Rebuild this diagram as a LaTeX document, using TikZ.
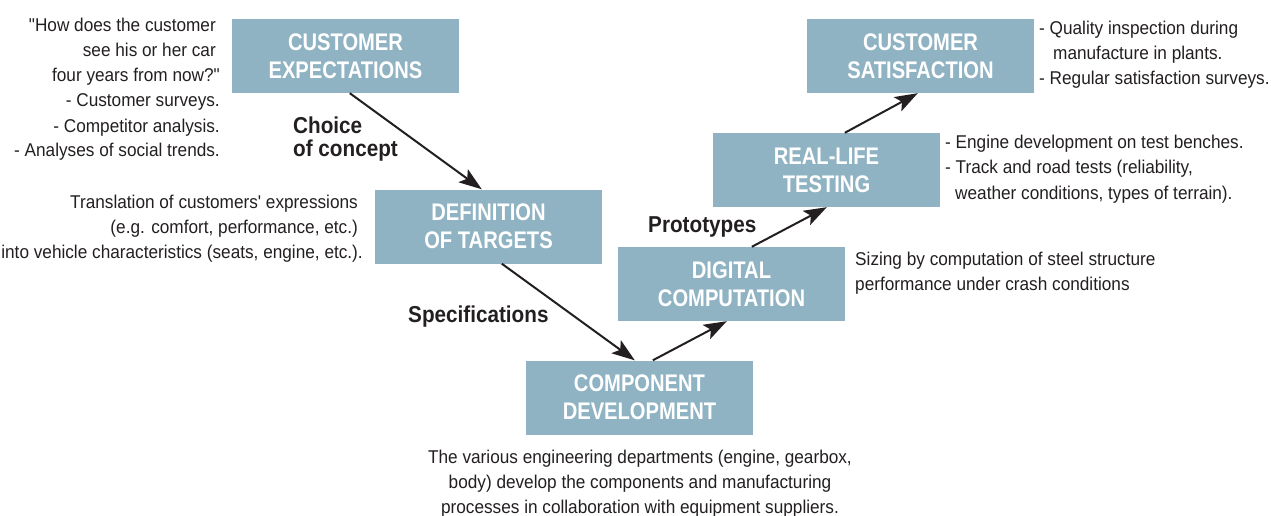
\documentclass[tikz,border=0pt]{standalone}
\usepackage{fontspec}
\setmainfont[FakeStretch=0.93,Ligatures=TeXOff]{Liberation Sans}
\newfontfamily\boxfont[FakeStretch=0.84]{Liberation Sans}
\newfontfamily\lblfont[FakeStretch=0.9]{Liberation Sans}
\usetikzlibrary{arrows.meta,calc}
\definecolor{boxblue}{RGB}{143,179,195}
\definecolor{ink}{RGB}{35,31,32}
\tikzset{
  stage/.style={fill=boxblue, draw=none, minimum width=227pt, minimum height=74pt, inner sep=0pt,
    align=center, text=white, font=\boxfont\fontsize{24}{28}\selectfont\bfseries},
  flow/.style={draw=ink, line width=2pt, -{Stealth[length=23pt,width=16pt,inset=5pt]}},
  body/.style={inner sep=0pt, text=ink, font=\fontsize{18.5}{25}\selectfont},
  lbl/.style={inner sep=0pt, text=ink, font=\lblfont\fontsize{23}{24}\selectfont\bfseries},
}
\begin{document}
\begin{tikzpicture}[x=1pt,y=-1pt]
\useasboundingbox (0,0) rectangle (1271,516);
% boxes
\node[stage] (ce) at (345.5,56) {CUSTOMER\\EXPECTATIONS};
\node[stage] (dt) at (488.5,226.5) {DEFINITION\\OF TARGETS};
\node[stage] (cd) at (639.5,397.5) {COMPONENT\\DEVELOPMENT};
\node[stage] (dc) at (731.5,284) {DIGITAL\\COMPUTATION};
\node[stage] (rl) at (826.5,170) {REAL-LIFE\\TESTING};
\node[stage] (cs) at (920.5,56) {CUSTOMER\\SATISFACTION};
% arrows
\draw[flow] ($(ce.south west)+(118,0)$) -- ($(dt.north west)+(107,0)$);
\draw[flow] ($(dt.south west)+(127,0)$) -- ($(cd.north west)+(109,0)$);
\draw[flow] ($(cd.north west)+(127,0)$) -- ($(dc.south west)+(109,0)$);
\draw[flow] ($(dc.north west)+(134,0)$) -- ($(rl.south west)+(114,0)$);
\draw[flow] ($(rl.north west)+(132,0)$) -- ($(cs.south west)+(111,0)$);
% arrow labels
\node[lbl, anchor=base west] (l1a) at (293,133) {Choice};
\node[lbl, anchor=base west] (l1b) at (293,157) {of concept};
\node[lbl, anchor=base west] (l2) at (408,322) {Specifications};
\node[lbl, anchor=base west] (l3) at (648,232) {Prototypes};
% left top text
\node[body, anchor=base east] (a1) at (216,32) {"How does the customer};
\node[body, anchor=base east] (a2) at (216,57) {see his or her car};
\node[body, anchor=base east] (a3) at (220,82) {four years from now?"};
\node[body, anchor=base east] (a4) at (220,107) {- Customer surveys.};
\node[body, anchor=base east] (a5) at (220,132) {- Competitor analysis.};
\node[body, anchor=base east] (a6) at (220,157) {- Analyses of social trends.};
% left middle text
\node[body, anchor=base east] (b1) at (358,208) {Translation of customers' expressions};
\node[body, anchor=base east] (b2) at (358,233) {(e.g. comfort, performance, etc.)};
\node[body, anchor=base east] (b3) at (363,258) {into vehicle characteristics (seats, engine, etc.).};
% bottom text
\node[body, anchor=base] (c1) at (640,463) {The various engineering departments (engine, gearbox,};
\node[body, anchor=base] (c2) at (640,488) {body) develop the components and manufacturing};
\node[body, anchor=base] (c3) at (640,513) {processes in collaboration with equipment suppliers.};
% sizing text
\node[body, anchor=base west] (d1) at (855,265) {Sizing by computation of steel structure};
\node[body, anchor=base west] (d2) at (855,290) {performance under crash conditions};
% real-life text
\node[body, anchor=base west] (e1) at (945,148) {- Engine development on test benches.};
\node[body, anchor=base west] (e2) at (945,173) {- Track and road tests (reliability,};
\node[body, anchor=base west] (e3) at (955,199) {weather conditions, types of terrain).};
% satisfaction text
\node[body, anchor=base west] (f1) at (1039,35) {- Quality inspection during};
\node[body, anchor=base west] (f2) at (1053,60) {manufacture in plants.};
\node[body, anchor=base west] (f3) at (1039,85) {- Regular satisfaction surveys.};
\end{tikzpicture}
\end{document}
